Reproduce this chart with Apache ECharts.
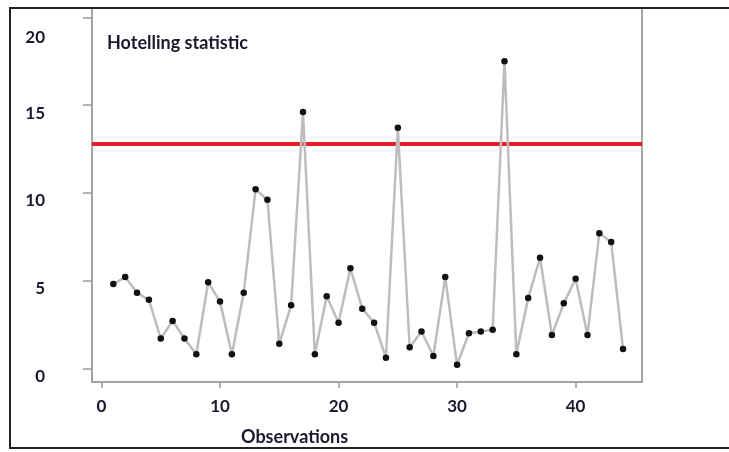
<!DOCTYPE html>
<html>
<head>
<meta charset="utf-8">
<script src="https://cdn.jsdelivr.net/npm/echarts@6/dist/echarts.min.js"></script>
<style>
  html, body { margin: 0; padding: 0; background: #fff; }
  #chart { width: 729px; height: 452px; }
</style>
</head>
<body>
<div id="chart"></div>
<script>
const observations = [1, 2, 3, 4, 5, 6, 7, 8, 9, 10, 11, 12, 13, 14, 15, 16, 17, 18, 19, 20, 21, 22,
  23, 24, 25, 26, 27, 28, 29, 30, 31, 32, 33, 34, 35, 36, 37, 38, 39, 40, 41, 42, 43, 44]
const hotelling = [4.8, 5.2, 4.3, 3.9, 1.7, 2.7, 1.7, 0.8, 4.9, 3.8, 0.8, 4.3, 10.2, 9.6, 1.4, 3.6,
  14.6, 0.8, 4.1, 2.6, 5.7, 3.4, 2.6, 0.6, 13.7, 1.2, 2.1, 0.7, 5.2, 0.2, 2.0, 2.1, 2.2, 17.5, 0.8,
  4.0, 6.3, 1.9, 3.7, 5.1, 1.9, 7.7, 7.2, 1.1]
const controlLimit = 12.8
const xTicks = [0, 10, 20, 30, 40]
const yTicks = [0, 5, 10, 15, 20]

const chart = echarts.init(document.getElementById('chart'))

const labelFont = {
  fontFamily: 'Lato',
  fontWeight: 'bold',
  fontSize: 17,
  color: '#1a1a2e'
}

chart.setOption({
  animation: false,
  backgroundColor: '#fff',
  title: [
    {
      text: 'Hotelling statistic',
      left: 102,
      top: 29,
      textStyle: { fontFamily: 'Lato', fontWeight: 'bold', fontSize: 18, color: '#1a1a2e' }
    },
    {
      text: 'Observations',
      left: 236,
      top: 423,
      textStyle: Object.assign({}, labelFont, { fontSize: 18 })
    }
  ],
  graphic: [
    {
      // outer frame of the figure
      type: 'rect',
      shape: { x: 10, y: 8, width: 740, height: 440 },
      style: { fill: 'none', stroke: '#222', lineWidth: 2 },
      z: 100
    }
  ],
  grid: {
    left: 92,
    top: 8,
    right: 87,
    bottom: 70,
    show: true,
    borderColor: '#a3a3a3',
    borderWidth: 2,
    backgroundColor: '#fff'
  },
  xAxis: {
    type: 'value',
    min: -0.8,
    max: 45.6,
    splitLine: { show: false },
    axisLine: { show: false, onZero: false },
    axisTick: {
      show: true,
      inside: false,
      customValues: xTicks,
      length: 6,
      lineStyle: { color: '#9a9a9a', width: 1.5 }
    },
    axisLabel: Object.assign({ customValues: xTicks, margin: 16 }, labelFont)
  },
  yAxis: {
    type: 'value',
    min: -0.78,
    max: 20.53,
    splitLine: { show: false },
    axisLine: { show: false, onZero: false },
    axisTick: {
      show: true,
      inside: false,
      customValues: yTicks,
      length: 9,
      lineStyle: { color: '#9a9a9a', width: 1.5 }
    },
    axisLabel: Object.assign({
      customValues: yTicks,
      align: 'right',
      margin: 47,
      formatter: function (v) {
        return v === 20 ? '{top|' + v + '}' : '{n|' + v + '}'
      },
      rich: {
        n: { padding: [16, 0, 0, 0], fontFamily: 'Lato', fontWeight: 'bold', fontSize: 17, color: '#1a1a2e' },
        top: { padding: [40, 0, 0, 0], fontFamily: 'Lato', fontWeight: 'bold', fontSize: 17, color: '#1a1a2e' }
      }
    }, labelFont)
  },
  series: [
    {
      type: 'line',
      data: observations.map((o, i) => [o, hotelling[i]]),
      symbol: 'circle',
      symbolSize: 6.5,
      itemStyle: { color: '#111' },
      lineStyle: { color: '#bdbdbd', width: 2.5 },
      z: 3,
      markLine: {
        silent: true,
        symbol: 'none',
        label: { show: false },
        lineStyle: { color: '#ec1c24', width: 4, type: 'solid' },
        data: [{ yAxis: controlLimit }],
        z: 2
      }
    }
  ]
})
</script>
</body>
</html>
